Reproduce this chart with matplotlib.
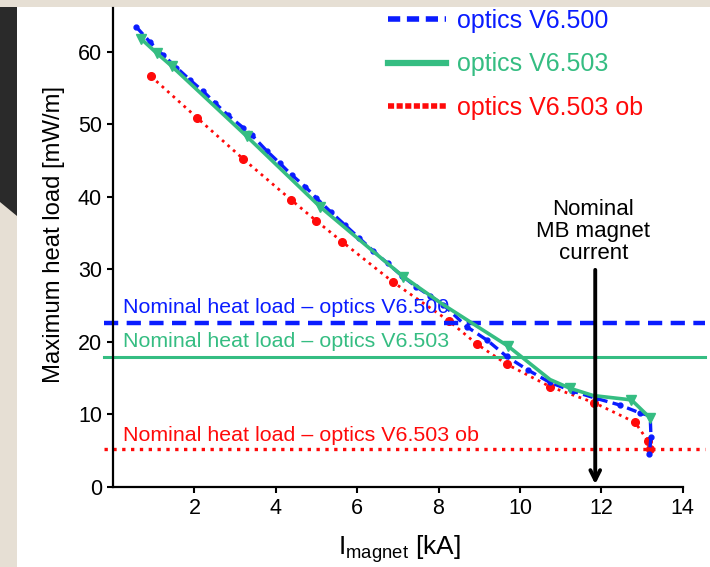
import matplotlib
matplotlib.use('Agg')
import matplotlib.pyplot as plt
from matplotlib.lines import Line2D
from matplotlib.patches import Polygon, Rectangle

plt.rcParams['font.family'] = ['Liberation Sans', 'DejaVu Sans']
plt.rcParams['mathtext.fontset'] = 'custom'
plt.rcParams['mathtext.rm'] = 'Liberation Sans'

BLUE = '#0a1cff'
GREEN = '#35bd82'
RED = '#ff0a0a'

# optics V6.500 (blue dashed, small dots)
i_v6500 = [0.57, 0.91, 1.23, 1.56, 1.89, 2.22, 2.51, 2.83, 3.20, 3.41, 3.78, 4.10,
           4.39, 4.72, 5.00, 5.35, 5.70, 6.05, 6.40, 6.75, 7.10, 7.45, 7.80, 8.12,
           8.69, 9.20, 9.67, 10.20, 10.74, 11.30, 11.88, 12.45, 12.95, 13.20, 13.22, 13.18]
q_v6500 = [63.4, 61.3, 59.5, 57.8, 56.1, 54.5, 52.9, 51.2, 49.5, 48.5, 46.3, 44.6,
           43.0, 41.4, 39.8, 37.9, 36.1, 34.3, 32.5, 30.8, 29.1, 27.6, 26.3, 25.1,
           22.1, 20.2, 18.0, 16.1, 14.4, 13.2, 12.2, 11.3, 10.2, 9.8, 6.9, 4.6]

# optics V6.503 (green solid, triangles)
i_v6503 = [0.70, 1.07, 1.44, 3.29, 5.09, 7.13, 8.12, 9.71, 10.74, 11.23, 11.80, 12.74, 13.20]
q_v6503 = [61.7, 59.8, 58.0, 48.3, 38.6, 29.0, 25.1, 19.4, 14.8, 13.6, 12.6, 12.0, 9.5]
tri_idx = [0, 1, 2, 3, 4, 5, 7, 9, 11, 12]

# optics V6.503 ob (red dotted, dots)
i_v6503ob = [0.93, 2.06, 3.20, 4.37, 4.99, 5.63, 6.89, 8.25, 8.94, 9.68, 10.75, 11.83, 12.83, 13.15, 13.20]
q_v6503ob = [56.6, 50.9, 45.2, 39.6, 36.7, 33.8, 28.2, 22.9, 19.7, 16.9, 13.8, 11.6, 8.9, 6.3, 5.3]

# nominal heat loads
nominal_labels = ['Nominal heat load \u2013 optics V6.500',
                  'Nominal heat load \u2013 optics V6.503',
                  'Nominal heat load \u2013 optics V6.503 ob']
nominal_values = [22.6, 17.9, 5.2]
nominal_text_y = [24.8, 20.0, 7.1]

nominal_current = 11.85

fig = plt.figure(figsize=(7.1, 5.67), dpi=100)

# slide background pieces
fig.patches.append(Rectangle((0, 1 - 7 / 567), 1, 7 / 567, transform=fig.transFigure,
                             facecolor='#e6dfd4', edgecolor='none', zorder=-10))
fig.patches.append(Rectangle((0, 0), 17 / 710, 1 - 7 / 567, transform=fig.transFigure,
                             facecolor='#e6dfd4', edgecolor='none', zorder=-10))
fig.patches.append(Polygon([(0, 1 - 7 / 567), (17 / 710, 1 - 7 / 567),
                            (17 / 710, 1 - 216 / 567), (0, 1 - 202 / 567)],
                           closed=True, transform=fig.transFigure,
                           facecolor='#2a2a2a', edgecolor='none', zorder=-9))

ax = fig.add_axes([113 / 710, 80 / 567, 597 / 710, 479 / 567])
ax.set_facecolor('none')

ax.plot(i_v6500, q_v6500, color=BLUE, lw=2.4, dashes=(3, 1.6), marker='o', ms=3.5, zorder=3)
ax.plot(i_v6503, q_v6503, color=GREEN, lw=2.6, marker='v', ms=6.5, markevery=tri_idx, zorder=4)
ax.plot(i_v6503ob, q_v6503ob, color=RED, lw=2.0, ls=':', marker='o', ms=5.5, zorder=2)

ax.plot([-0.22, 14.55], [nominal_values[0]] * 2, color=BLUE, lw=3.2, dashes=(3.2, 1.9), clip_on=False)
ax.plot([-0.22, 14.55], [nominal_values[1]] * 2, color=GREEN, lw=2.2, clip_on=False)
ax.plot([-0.22, 14.55], [nominal_values[2]] * 2, color=RED, lw=2.4, ls=':', clip_on=False)

for lab, yv, col in zip(nominal_labels, nominal_text_y, [BLUE, GREEN, RED]):
    ax.text(0.25, yv, lab, color=col, fontsize=15.4, va='center', ha='left')

ax.annotate('', xy=(nominal_current, 0), xytext=(nominal_current, 30.3),
            arrowprops=dict(arrowstyle='->,head_length=0.7,head_width=0.35', lw=2.8, color='black'),
            zorder=6)
ax.text(nominal_current - 0.05, 35.2, 'Nominal\nMB magnet\ncurrent', ha='center', va='center',
        fontsize=16, linespacing=1.05)

ax.set_xlim(0, 14.67)
ax.set_ylim(0, 66)
ax.set_xticks([2, 4, 6, 8, 10, 12, 14])
ax.set_yticks([0, 10, 20, 30, 40, 50, 60])
ax.spines['top'].set_visible(False)
ax.spines['right'].set_visible(False)
ax.spines['bottom'].set_bounds(0, 14)
ax.spines['left'].set_linewidth(1.6)
ax.spines['bottom'].set_linewidth(1.6)
ax.tick_params(labelsize=15.5, length=4, width=1.5, pad=4)

ax.set_xlabel(r'$\mathregular{I_{magnet}}$ [kA]', fontsize=19)
ax.set_ylabel('Maximum heat load [mW/m]', fontsize=17.2)
ax.xaxis.set_label_coords(0.48, -0.096)
ax.yaxis.set_label_coords(-0.08, 0.528)

handles = [Line2D([], [], color=BLUE, lw=4, dashes=(2.2, 1.2)),
           Line2D([], [], color=GREEN, lw=4.5),
           Line2D([], [], color=RED, lw=4, dashes=(1.1, 0.45))]
leg = fig.legend(handles, ['optics V6.500', 'optics V6.503', 'optics V6.503 ob'],
                 loc='upper left', bbox_to_anchor=(388 / 710, 1 - 9 / 567), frameon=False,
                 fontsize=18, handlelength=2.3, handletextpad=0.45, labelspacing=0.78,
                 borderpad=0, borderaxespad=0)
for txt, col in zip(leg.get_texts(), [BLUE, GREEN, RED]):
    txt.set_color(col)

fig.savefig('out.png', dpi=100)
